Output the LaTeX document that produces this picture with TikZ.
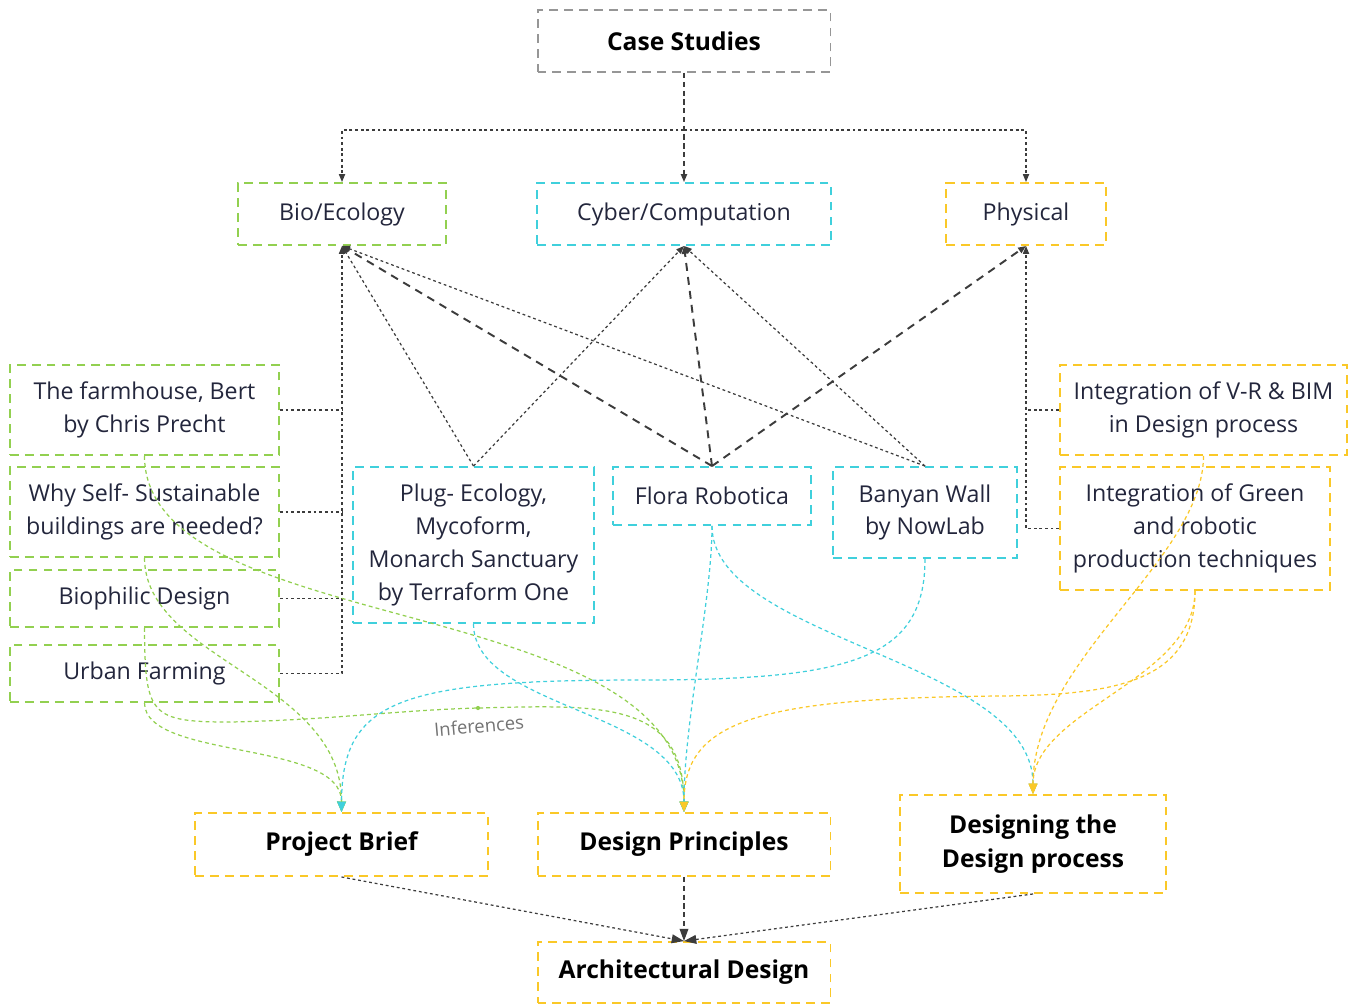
\documentclass[tikz,border=0pt]{standalone}
\usepackage{fontspec}
\setmainfont{Open Sans}
\usetikzlibrary{arrows.meta}
\definecolor{biocol}{RGB}{146,208,80}
\definecolor{cybcol}{RGB}{64,208,220}
\definecolor{phycol}{RGB}{250,200,40}
\definecolor{casecol}{RGB}{150,150,150}
\definecolor{txtcol}{RGB}{35,38,60}
\definecolor{lnkcol}{RGB}{60,60,60}

\begin{document}
\begin{tikzpicture}[x=0.02cm,y=-0.02cm,
    box/.style={draw,line width=1.1pt,dash pattern=on 5pt off 3.5pt,align=center,text=txtcol,
      inner sep=2pt,font=\fontsize{13.2}{18.7}\selectfont},
    headbox/.style={box,text=black,font=\fontsize{14}{19.5}\selectfont\bfseries},
    link/.style={draw=lnkcol,line width=0.7pt,dash pattern=on 1.6pt off 1.6pt,-{Triangle[length=4.5pt,width=3.5pt]}},
    stub/.style={draw=lnkcol,line width=0.7pt,dash pattern=on 1.6pt off 1.6pt},
    strong/.style={draw=lnkcol,line width=1.1pt,dash pattern=on 4.5pt off 3.5pt,-{Triangle[length=4.5pt,width=3.5pt]}},
    flow/.style={line width=0.7pt,dash pattern=on 2.2pt off 1.8pt,-{Triangle[length=6pt,width=5pt]}},
    inflabel/.style={text=black!55,font=\fontsize{10.5}{12}\selectfont}]
  \useasboundingbox (0,0) rectangle (1349,1005);

  \node[headbox,draw=casecol,minimum width=5.86cm,minimum height=1.24cm] (case) at (684,41) {Case Studies};
  \node[box,draw=biocol,minimum width=4.16cm,minimum height=1.24cm] (bio) at (342,214) {Bio/Ecology};
  \node[box,draw=cybcol,minimum width=5.88cm,minimum height=1.24cm] (cyber) at (684,214) {Cyber/Computation};
  \node[box,draw=phycol,minimum width=3.20cm,minimum height=1.24cm] (phys) at (1026,214) {Physical};

  \node[box,draw=biocol,minimum width=5.38cm,minimum height=1.80cm] (farm) at (144.5,410) {The farmhouse, Bert\\by Chris Precht};
  \node[box,draw=biocol,minimum width=5.38cm,minimum height=1.80cm] (whyself) at (144.5,512) {Why Self- Sustainable\\buildings are needed?};
  \node[box,draw=biocol,minimum width=5.38cm,minimum height=1.14cm] (biophil) at (144.5,598.5) {Biophilic Design};
  \node[box,draw=biocol,minimum width=5.38cm,minimum height=1.14cm] (urban) at (144.5,673.5) {Urban Farming};

  \node[box,draw=cybcol,minimum width=4.82cm,minimum height=3.12cm] (plug) at (473.5,545) {Plug- Ecology,\\Mycoform,\\Monarch Sanctuary\\by Terraform One};
  \node[box,draw=cybcol,minimum width=3.96cm,minimum height=1.16cm] (flora) at (712,496) {Flora Robotica};
  \node[box,draw=cybcol,minimum width=3.68cm,minimum height=1.82cm] (banyan) at (925,512.5) {Banyan Wall\\by NowLab};

  \node[box,draw=phycol,minimum width=5.74cm,minimum height=1.80cm] (vrbim) at (1203.5,410) {Integration of V-R \& BIM\\in Design process};
  \node[box,draw=phycol,minimum width=5.40cm,minimum height=2.46cm] (greenint) at (1195,528.5) {Integration of Green\\and robotic\\production techniques};

  \node[headbox,draw=phycol,minimum width=5.86cm,minimum height=1.26cm] (brief) at (341.5,844.5) {Project Brief};
  \node[headbox,draw=phycol,minimum width=5.86cm,minimum height=1.26cm] (princ) at (684,844.5) {Design Principles};
  \node[headbox,draw=phycol,minimum width=5.32cm,minimum height=1.96cm] (ddp) at (1033,844) {Designing the\\Design process};
  \node[headbox,draw=phycol,minimum width=5.86cm,minimum height=1.22cm] (arch) at (684,972.5) {Architectural Design};

  \coordinate (split) at (684,130);
  \draw[strong,line width=0.9pt,dash pattern=on 3pt off 2pt] (case.south) -- (cyber.north);
  \draw[link] (split) -| (bio.north);
  \draw[link] (split) -| (phys.north);

  \draw[link] (urban.east) -| (bio.south);
  \draw[stub] (farm.east) -- (farm.east -| bio.south);
  \draw[stub] (whyself.east) -- (whyself.east -| bio.south);
  \draw[stub] (biophil.east) -- (biophil.east -| bio.south);
  \draw[link] (plug.north) -- (bio.south);
  \draw[strong] (flora.north) -- (bio.south);
  \draw[link] (banyan.north) -- (bio.south);
  \draw[link] (plug.north) -- (cyber.south);
  \draw[strong] (flora.north) -- (cyber.south);
  \draw[link] (banyan.north) -- (cyber.south);
  \draw[strong] (flora.north) -- (phys.south);
  \draw[link] (greenint.west) -| (phys.south);
  \draw[stub] (vrbim.west) -- (vrbim.west -| phys.south);

  \draw[flow,biocol] (farm.south) .. controls (145,640) and (684,590) .. (princ.north);
  \draw[flow,biocol] (whyself.south) .. controls (145,660) and (342,680) .. (brief.north);
  \draw[flow,biocol] (biophil.south) .. controls (145,715) and (150,722) .. (230,722)
    .. controls (330,720) and (400,710) .. (478,708) .. controls (600,705) and (684,700) .. (princ.north);
  \draw[flow,biocol] (urban.south) .. controls (145,760) and (342,740) .. (brief.north);
  \fill[biocol] (478,708) circle (1.2pt);
  \node[inflabel,rotate=5] (infer) at (479,726) {Inferences};

  \draw[flow,cybcol] (plug.south) .. controls (474,710) and (684,710) .. (princ.north);
  \draw[flow,cybcol] (flora.south) .. controls (712,600) and (684,720) .. (princ.north);
  \draw[flow,cybcol] (flora.south) .. controls (712,640) and (1033,660) .. (ddp.north);
  \draw[flow,cybcol] (banyan.south) .. controls (925,660) and (850,680) .. (640,680)
    .. controls (400,680) and (342,700) .. (brief.north);

  \draw[flow,phycol] (vrbim.south) .. controls (1203,560) and (1033,660) .. (ddp.north);
  \draw[flow,phycol] (greenint.south) .. controls (1195,680) and (1120,695) .. (1000,696)
    .. controls (760,698) and (684,720) .. (princ.north);
  \draw[flow,phycol] (greenint.south) .. controls (1195,680) and (1033,710) .. (ddp.north);

  \draw[link,-{Triangle[length=7pt,width=5pt]}] (brief.south) -- (arch.north);
  \draw[link,dash pattern=on 3pt off 2pt,-{Triangle[length=7pt,width=5pt]}] (princ.south) -- (arch.north);
  \draw[link,-{Triangle[length=7pt,width=5pt]}] (ddp.south) -- (arch.north);
\end{tikzpicture}
\end{document}
